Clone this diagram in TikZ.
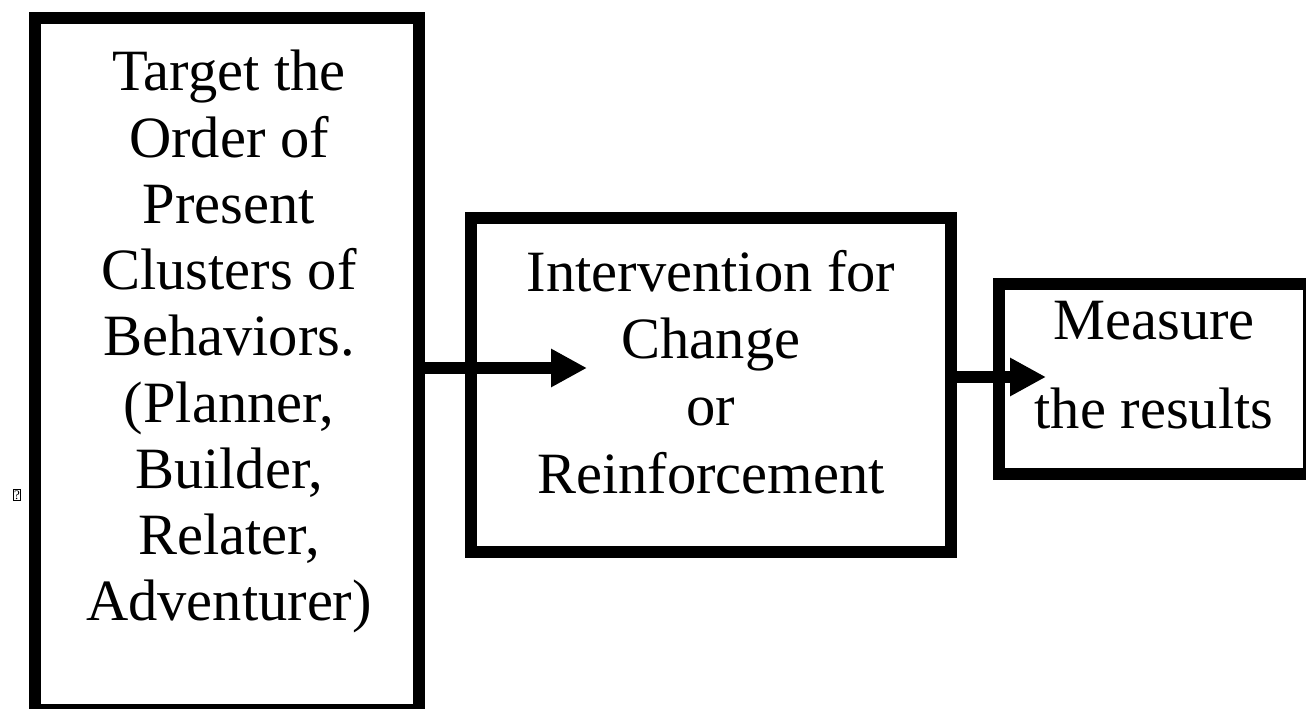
\documentclass[tikz,border=0pt]{standalone}
\usepackage{fontspec}
\setmainfont{Liberation Serif}
\usepackage{tikz}
\usetikzlibrary{calc,arrows.meta}

\begin{document}
\begin{tikzpicture}[x=1pt,y=1pt,
		box/.style={draw, line width=12pt, inner sep=0pt},
		txt/.style={align=center, inner sep=0pt, anchor=north},
		flow/.style={line width=12pt, -{Triangle[length=36pt,width=36pt]}}]
				\useasboundingbox (0,0) rectangle (1306,709);
				%boxes
				\node[box, minimum width=384, minimum height=692] (target) at (227,345) {};
				\node[box, minimum width=480, minimum height=334] (change) at (711,324) {};
				\node[box, minimum width=310, minimum height=190] (measure) at (1154,330) {};
				%texts
				\node[txt, font=\fontsize{58.5}{66.25}\selectfont] (targettxt) at (229,659) {Target the\\Order of\\Present\\Clusters of\\Behaviors.\\(Planner,\\Builder,\\Relater,\\Adventurer)};
				\node[txt, font=\fontsize{58.5}{67.3}\selectfont] (changetxt) at (711,459) {Intervention for\\Change\\or\\Reinforcement};
				\node[txt, font=\fontsize{58.5}{89}\selectfont] (measuretxt) at (1154,408) {Measure\\the results};
				%missing glyph
				\node[draw, line width=0.8pt, inner sep=1pt, font=\fontsize{13}{13}\selectfont] (glyph) at (17,214) {?};
				%arrows
				\coordinate (tip1) at (587,341);
				\coordinate (tip2) at (1046,332);
				\draw[flow] (target.east |- tip1) -- (tip1);
				\draw[flow] (change.east |- tip2) -- (tip2);
			\end{tikzpicture}
\end{document}
